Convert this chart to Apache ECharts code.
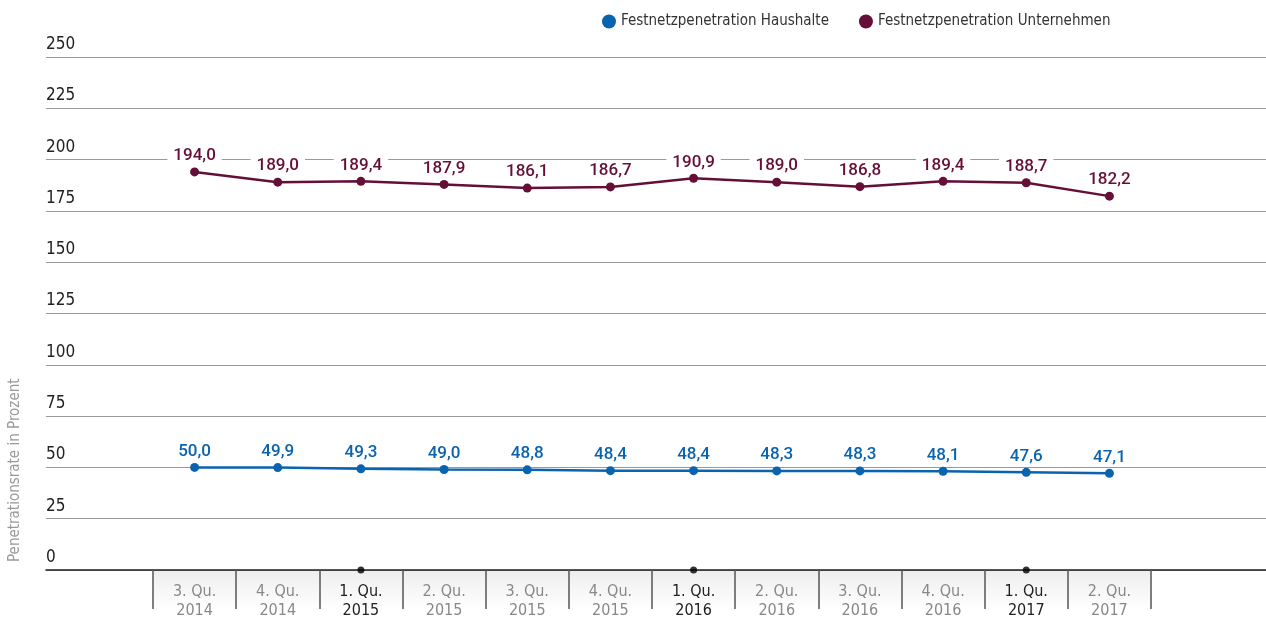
<!DOCTYPE html>
<html>
<head>
<meta charset="utf-8">
<script src="https://cdn.jsdelivr.net/npm/echarts@6/dist/echarts.min.js"></script>
<style>
  html, body { margin: 0; padding: 0; background: #fff; }
  #main { width: 1266px; height: 625px; }
</style>
</head>
<body>
<div id="main"></div>
<script>
// Daten
const quarters = ['3. Qu.\n2014', '4. Qu.\n2014', '1. Qu.\n2015', '2. Qu.\n2015', '3. Qu.\n2015', '4. Qu.\n2015',
  '1. Qu.\n2016', '2. Qu.\n2016', '3. Qu.\n2016', '4. Qu.\n2016', '1. Qu.\n2017', '2. Qu.\n2017'];
const haushalte = [50.0, 49.9, 49.3, 49.0, 48.8, 48.4, 48.4, 48.3, 48.3, 48.1, 47.6, 47.1];
const unternehmen = [194.0, 189.0, 189.4, 187.9, 186.1, 186.7, 190.9, 189.0, 186.8, 189.4, 188.7, 182.2];
const yMin = 0;
const yMax = 250;
const yStep = 25;

const FONT = "'DejaVu Sans Condensed', 'Roboto', sans-serif";
const LABEL_FONT = "'Roboto', 'DejaVu Sans Condensed', sans-serif";
const BLUE = '#0a63ae';
const MAROON = '#650f38';

// Jahresanfang-Markierungen (1. Quartal)
const yearStarts = quarters
  .map((q, i) => (q.indexOf('1.') === 0 ? [i, 0] : null))
  .filter(d => d !== null);

const fmt = v => v.toFixed(1).replace('.', ',');

const chart = echarts.init(document.getElementById('main'));

function valueLabel(color) {
  return {
    show: true,
    position: 'top',
    distance: 3,
    formatter: p => fmt(p.value),
    fontFamily: LABEL_FONT,
    fontSize: 17,
    fontWeight: 500,
    color: color,
    backgroundColor: '#fff',
    padding: [0, 6]
  };
}

const option = {
  animation: false,
  textStyle: { fontFamily: FONT },
  legend: {
    data: ['Festnetzpenetration Haushalte', 'Festnetzpenetration Unternehmen'],
    left: 597,
    top: 9,
    icon: 'circle',
    itemWidth: 14,
    itemHeight: 14,
    itemGap: 30,
    textStyle: { fontFamily: FONT, fontSize: 15, color: '#333' }
  },
  grid: [
    { left: 46, right: 0, top: 57, bottom: 55 },
    { left: 153, right: 115, top: 57, bottom: 55 }
  ],
  xAxis: [
    {
      gridIndex: 0,
      type: 'value',
      min: 0,
      max: 1,
      axisLine: { show: true, onZero: false, lineStyle: { color: '#222', width: 1.5 } },
      axisTick: { show: false },
      axisLabel: { show: false },
      splitLine: { show: false }
    },
    {
      gridIndex: 1,
      type: 'category',
      data: quarters,
      boundaryGap: true,
      axisLine: { show: false },
      axisTick: { show: true, interval: 0, length: 39, lineStyle: { color: '#555', width: 1.5 } },
      axisLabel: {
        interval: 0,
        margin: 12,
        formatter: function (v) {
          const key = v.indexOf('1.') === 0 ? 'b' : 'g';
          return v.split('\n').map(s => '{' + key + '|' + s + '}').join('\n');
        },
        rich: {
          b: { fontFamily: FONT, fontSize: 16, color: '#222', lineHeight: 19 },
          g: { fontFamily: FONT, fontSize: 16, color: '#888', lineHeight: 19 }
        }
      }
    }
  ],
  yAxis: [
    {
      gridIndex: 0,
      type: 'value',
      min: yMin,
      max: yMax,
      interval: yStep,
      axisLine: { show: false },
      axisTick: { show: false },
      axisLabel: {
        inside: true,
        margin: 0,
        verticalAlign: 'bottom',
        padding: [0, 0, 4, 0],
        fontFamily: FONT,
        fontSize: 17,
        color: '#222'
      },
      splitLine: { lineStyle: { color: '#999', width: 1 } }
    },
    {
      gridIndex: 1,
      type: 'value',
      min: yMin,
      max: yMax,
      interval: yStep,
      show: false
    }
  ],
  graphic: [
    {
      type: 'rect',
      left: 153,
      top: 571,
      shape: { width: 998, height: 39 },
      z: -1,
      style: {
        fill: new echarts.graphic.LinearGradient(0, 0, 0, 1, [
          { offset: 0, color: '#eeeeee' },
          { offset: 1, color: '#ffffff' }
        ])
      }
    },
    {
      type: 'text',
      left: 8,
      bottom: 63,
      rotation: Math.PI / 2,
      style: {
        text: 'Penetrationsrate in Prozent',
        fontFamily: FONT,
        fontSize: 15,
        fill: '#999'
      }
    }
  ],
  series: [
    {
      name: 'Festnetzpenetration Haushalte',
      type: 'line',
      xAxisIndex: 1,
      yAxisIndex: 1,
      data: haushalte,
      color: BLUE,
      symbol: 'circle',
      symbolSize: 9,
      lineStyle: { width: 2.5 },
      label: valueLabel(BLUE),
      z: 3
    },
    {
      name: 'Festnetzpenetration Unternehmen',
      type: 'line',
      xAxisIndex: 1,
      yAxisIndex: 1,
      data: unternehmen,
      color: MAROON,
      symbol: 'circle',
      symbolSize: 9,
      lineStyle: { width: 2.5 },
      label: valueLabel(MAROON),
      z: 3
    },
    {
      name: 'Jahr',
      type: 'scatter',
      xAxisIndex: 1,
      yAxisIndex: 1,
      data: yearStarts,
      symbolSize: 7,
      color: '#000',
      clip: false,
      silent: true,
      z: 4
    }
  ]
};

chart.setOption(option);
</script>
</body>
</html>
